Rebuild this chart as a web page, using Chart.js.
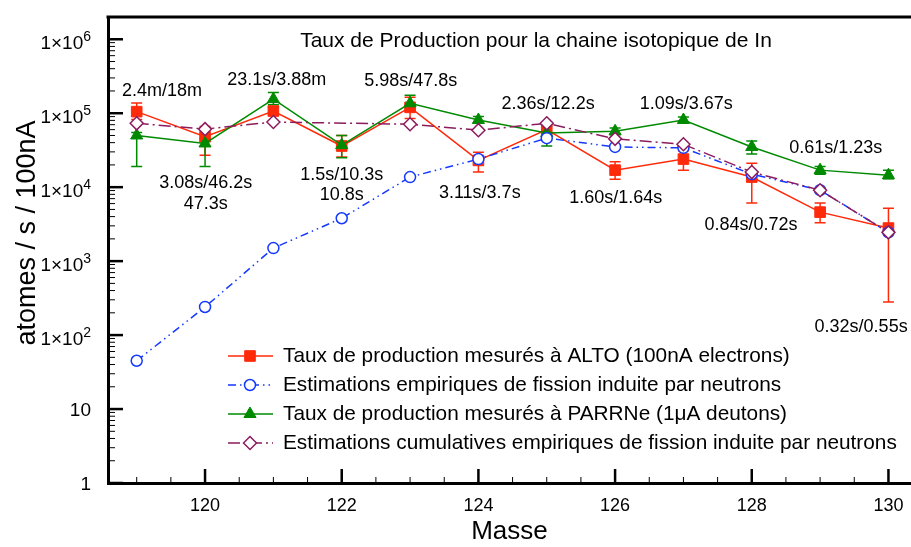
<!DOCTYPE html>
<html>
<head>
<meta charset="utf-8">
<title>Taux de Production - chaine isotopique de In</title>
<script src="https://cdn.jsdelivr.net/npm/chart.js@4.4.1/dist/chart.umd.min.js"></script>
<style>
    html, body { margin: 0; padding: 0; background: #ffffff; }
    canvas { display: block; }
</style>
</head>
<body>
<canvas id="prodChart" width="911" height="547"></canvas>
<script>
// ---- data ----
const masses = [119, 120, 121, 122, 123, 124, 125, 126, 127, 128, 129, 130];

// Taux mesurés à ALTO (red squares) + error bars
const altoRate = [1.05e5, 4.8e4, 1.07e5, 3.6e4, 1.2e5, 2.3e4, 6.0e4, 1.7e4, 2.4e4, 1.37e4, 4.6e3, 2.8e3];
const altoLow  = [8.2e4, 2.7e4, 9.5e4, 2.55e4, 8.5e4, 1.6e4, 4.8e4, 1.28e4, 1.7e4, 6.1e3, 3.3e3, 280];
const altoHigh = [1.37e5, 6.6e4, 1.2e5, 5.0e4, 1.65e5, 2.97e4, 7.3e4, 2.2e4, 3.1e4, 2.1e4, 6.1e3, 5.2e3];

// Estimations empiriques (blue open circles)
const empirical = [45, 240, 1500, 3800, 1.37e4, 2.4e4, 4.6e4, 3.5e4, 3.4e4, 1.5e4, 9.1e3, 2.45e3];

// Taux mesurés à PARRNe (green triangles) + error bars
const parrneRate = [5.0e4, 3.9e4, 1.55e5, 3.7e4, 1.36e5, 8.1e4, 5.4e4, 5.7e4, 8.1e4, 3.5e4, 1.7e4, 1.45e4];
const parrneLow  = [1.9e4, 1.9e4, 1.3e5, 2.5e4, 1.1e5, 7.3e4, 3.6e4, 5.1e4, 7.3e4, 2.8e4, 1.5e4, 1.3e4];
const parrneHigh = [5.5e4, 4.5e4, 1.9e5, 5.0e4, 1.75e5, 9.0e4, 6.5e4, 6.3e4, 8.9e4, 4.2e4, 1.9e4, 1.7e4];

// Estimations cumulatives (purple open diamonds), no point at 122
const cumulative = [7.3e4, 6.1e4, 7.6e4, null, 7.1e4, 5.9e4, 7.3e4, 4.5e4, 3.8e4, 1.6e4, 9.1e3, 2.45e3];

// half-life annotations, anchored in data coordinates
const noteTexts = ['2.4m/18m', '23.1s/3.88m', '5.98s/47.8s', '2.36s/12.2s', '1.09s/3.67s', '0.61s/1.23s',
                   '3.08s/46.2s', '47.3s', '1.5s/10.3s', '10.8s', '3.11s/3.7s', '1.60s/1.64s', '0.84s/0.72s', '0.32s/0.55s'];
const noteMass  = [119.37, 121.05, 123.01, 125.02, 127.04, 129.23, 120.01, 120.01, 122.0, 122.0, 124.02, 126.01, 127.99, 129.6];
const noteLevel = [2.0e5, 2.8e5, 2.7e5, 1.32e5, 1.32e5, 3.37e4, 1.13e4, 5.9e3, 1.45e4, 7.8e3, 8.3e3, 7.1e3, 3.06e3, 128];

const xTicks = [120, 122, 124, 126, 128, 130];
const decades = [0, 1, 2, 3, 4, 5, 6];

const legendLabels = [
    'Taux de production mesurés à ALTO (100nA electrons)',
    'Estimations empiriques de fission induite par neutrons',
    'Taux de production mesurés à PARRNe (1\u03bcA deutons)',
    'Estimations cumulatives empiriques de fission induite par neutrons'
];

const titleText = 'Taux de Production pour la chaine isotopique de In';
const FONT = '"Liberation Sans", Arial, Helvetica, sans-serif';

const colors = {
    alto: '#ff2a0a',
    empirical: '#1438ff',
    parrne: '#008a00',
    cumulative: '#8b1c5e'
};

const toPoints = (values) => masses.map((m, i) => ({ x: m, y: values[i] }));

// ---- error bars, drawn under the markers ----
const errorBars = {
    id: 'errorBars',
    beforeDatasetsDraw(chart) {
        const { ctx, scales: { x, y } } = chart;
        ctx.save();
        chart.data.datasets.forEach(ds => {
            if (!ds.errLow) return;
            ctx.strokeStyle = ds.borderColor;
            ctx.lineWidth = 1.5;
            masses.forEach((m, i) => {
                const px = x.getPixelForValue(m);
                const top = y.getPixelForValue(ds.errHigh[i]);
                const bot = y.getPixelForValue(ds.errLow[i]);
                ctx.beginPath();
                ctx.moveTo(px, top); ctx.lineTo(px, bot);
                ctx.moveTo(px - 5.5, top); ctx.lineTo(px + 5.5, top);
                ctx.moveTo(px - 5.5, bot); ctx.lineTo(px + 5.5, bot);
                ctx.stroke();
            });
        });
        ctx.restore();
    }
};

// ---- frame, inward ticks, y labels, titles, notes and legend ----
const decorations = {
    id: 'decorations',
    afterDraw(chart) {
        const { ctx, chartArea: area, scales: { x, y } } = chart;
        ctx.save();

        // top border
        ctx.strokeStyle = '#000';
        ctx.lineWidth = 3;
        ctx.beginPath();
        ctx.moveTo(area.left - 1.5, area.top);
        ctx.lineTo(area.right, area.top);
        ctx.stroke();

        // y ticks (major at decades, minor 2..9)
        for (let k = 0; k < 6; k++) {
            for (let j = 1; j <= 9; j++) {
                const py = y.getPixelForValue(j * Math.pow(10, k));
                ctx.lineWidth = j === 1 ? 2.5 : 1;
                ctx.beginPath();
                ctx.moveTo(area.left, py);
                ctx.lineTo(area.left + (j === 1 ? 15 : 7), py);
                ctx.stroke();
            }
        }
        for (let j = 1; j <= 2; j++) {
            const py = y.getPixelForValue(j * 1e6);
            ctx.lineWidth = j === 1 ? 2.5 : 1;
            ctx.beginPath();
            ctx.moveTo(area.left, py);
            ctx.lineTo(area.left + (j === 1 ? 15 : 7), py);
            ctx.stroke();
        }

        // x ticks (major every 2, minor every 0.5)
        for (let v = Math.ceil(x.min * 2) / 2; v <= x.max; v += 0.5) {
            const px = x.getPixelForValue(v);
            const major = Math.abs(v % 2) < 1e-6;
            ctx.lineWidth = major ? 2.5 : 1;
            ctx.beginPath();
            ctx.moveTo(px, area.bottom);
            ctx.lineTo(px, area.bottom - (major ? 14 : 6));
            ctx.stroke();
        }

        // y tick labels with superscript exponents
        ctx.fillStyle = '#000';
        ctx.textBaseline = 'alphabetic';
        ctx.textAlign = 'left';
        const labelRight = area.left - 17;
        decades.forEach(k => {
            const py = y.getPixelForValue(Math.pow(10, k));
            ctx.font = '19px ' + FONT;
            if (k < 2) {
                const t = k === 0 ? '1' : '10';
                const w = ctx.measureText(t).width;
                ctx.fillText(t, labelRight - w, py + 7);
            } else {
                const base = '1\u00d710';
                const sup = String(k);
                ctx.font = '14px ' + FONT;
                const sw = ctx.measureText(sup).width;
                ctx.font = '19px ' + FONT;
                const bw = ctx.measureText(base).width;
                ctx.fillText(base, labelRight - sw - bw, py + 10);
                ctx.font = '14px ' + FONT;
                ctx.fillText(sup, labelRight - sw, py + 2);
            }
        });

        // y axis title
        ctx.save();
        ctx.translate(28, 233);
        ctx.rotate(-Math.PI / 2);
        ctx.textAlign = 'center';
        ctx.textBaseline = 'middle';
        ctx.font = '27px ' + FONT;
        ctx.fillText('atomes / s / 100nA', 0, 0);
        ctx.restore();

        // plot title
        ctx.textAlign = 'center';
        ctx.textBaseline = 'middle';
        ctx.font = '21px ' + FONT;
        ctx.fillText(titleText, 536, 41);

        // half-life notes
        ctx.font = '18px ' + FONT;
        noteTexts.forEach((t, i) => {
            ctx.fillText(t, x.getPixelForValue(noteMass[i]), y.getPixelForValue(noteLevel[i]));
        });

        // legend
        const rowY = [356, 385, 414, 443];
        const order = [0, 1, 2, 3];
        order.forEach((di, r) => {
            const ds = chart.data.datasets[di];
            const ly = rowY[r];
            ctx.strokeStyle = ds.borderColor;
            ctx.lineWidth = ds.borderWidth;
            ctx.setLineDash(ds.borderDash || []);
            ctx.beginPath();
            ctx.moveTo(228, ly);
            ctx.lineTo(273, ly);
            ctx.stroke();
            ctx.setLineDash([]);
            ctx.fillStyle = ds.pointBackgroundColor;
            ctx.strokeStyle = ds.pointBorderColor;
            ctx.lineWidth = ds.pointBorderWidth;
            Chart.helpers.drawPoint(ctx, {
                pointStyle: ds.pointStyle,
                radius: ds.pointRadius,
                rotation: 0,
                borderWidth: ds.pointBorderWidth
            }, 250, ly);
            ctx.fillStyle = '#000';
            ctx.textAlign = 'left';
            ctx.font = '20.8px ' + FONT;
            ctx.fillText(legendLabels[r], 283, ly);
        });

        ctx.restore();
    }
};

new Chart(document.getElementById('prodChart'), {
    type: 'line',
    data: {
        datasets: [
            {
                label: legendLabels[0],
                data: toPoints(altoRate),
                errLow: altoLow,
                errHigh: altoHigh,
                borderColor: colors.alto,
                backgroundColor: colors.alto,
                borderWidth: 1.5,
                pointStyle: 'rect',
                pointRadius: 7.5,
                pointBackgroundColor: colors.alto,
                pointBorderColor: colors.alto,
                pointBorderWidth: 1,
                order: 3
            },
            {
                label: legendLabels[1],
                data: toPoints(empirical),
                borderColor: colors.empirical,
                borderWidth: 1.5,
                borderDash: [8, 4, 1.5, 4, 1.5, 4],
                pointStyle: 'circle',
                pointRadius: 5.5,
                pointBackgroundColor: '#ffffff',
                pointBorderColor: colors.empirical,
                pointBorderWidth: 1.5,
                order: 1
            },
            {
                label: legendLabels[2],
                data: toPoints(parrneRate),
                errLow: parrneLow,
                errHigh: parrneHigh,
                borderColor: colors.parrne,
                backgroundColor: colors.parrne,
                borderWidth: 1.5,
                pointStyle: 'triangle',
                pointRadius: 7,
                pointBackgroundColor: colors.parrne,
                pointBorderColor: colors.parrne,
                pointBorderWidth: 1,
                order: 2
            },
            {
                label: legendLabels[3],
                data: toPoints(cumulative),
                spanGaps: true,
                borderColor: colors.cumulative,
                borderWidth: 1.5,
                borderDash: [12, 4, 2, 4],
                pointStyle: 'rectRot',
                pointRadius: 6.5,
                pointBackgroundColor: '#ffffff',
                pointBorderColor: colors.cumulative,
                pointBorderWidth: 1.5,
                order: 0
            }
        ]
    },
    options: {
        responsive: false,
        animation: false,
        layout: { autoPadding: false, padding: { top: 17, right: 0, left: 0, bottom: 0 } },
        plugins: {
            legend: { display: false },
            tooltip: { enabled: false }
        },
        elements: { line: { tension: 0 } },
        scales: {
            x: {
                type: 'linear',
                min: 118.58,
                max: 130.33,
                grid: { display: false, drawTicks: false },
                border: { display: true, color: '#000', width: 3 },
                afterBuildTicks: scale => { scale.ticks = xTicks.map(v => ({ value: v })); },
                afterFit: scale => {
                    scale.height = 64;
                    scale.paddingLeft = 0;
                    scale.paddingRight = 0;
                },
                ticks: {
                    color: '#000',
                    padding: 12,
                    maxRotation: 0,
                    font: { size: 18, family: FONT },
                    callback: v => String(v)
                },
                title: {
                    display: true,
                    text: 'Masse',
                    color: '#000',
                    padding: { top: 0, bottom: 0 },
                    font: { size: 26, family: FONT }
                }
            },
            y: {
                type: 'logarithmic',
                min: 1,
                max: 2e6,
                grid: { display: false, drawTicks: false },
                border: { display: true, color: '#000', width: 3 },
                afterBuildTicks: scale => { scale.ticks = decades.map(k => ({ value: Math.pow(10, k) })); },
                afterFit: scale => {
                    scale.width = 108;
                    scale.paddingTop = 0;
                    scale.paddingBottom = 0;
                },
                ticks: { display: false }
            }
        }
    },
    plugins: [errorBars, decorations]
});
</script>
</body>
</html>
